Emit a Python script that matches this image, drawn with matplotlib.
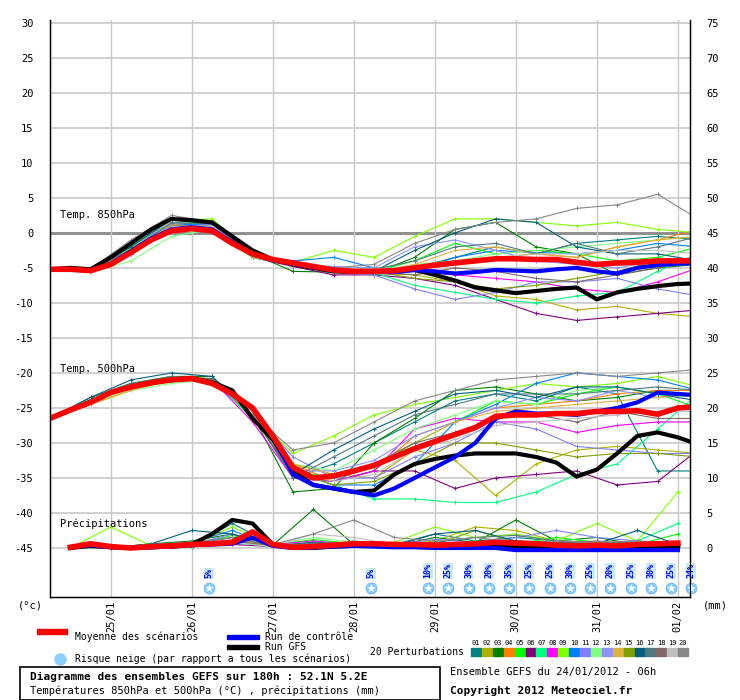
import matplotlib
matplotlib.use('Agg')
import matplotlib.pyplot as plt
from matplotlib.patches import Rectangle
import numpy as np

plt.rcParams['font.family'] = ['DejaVu Sans Mono', 'DejaVu Sans']

# ---- data (hours after 24/01/2012 06h) ----
H6 = list(range(0, 193, 6))          # control / GFS / mean temperatures
H12 = list(range(0, 193, 12))        # perturbation temperatures
P6 = list(range(6, 187, 6))          # mean / control / GFS precipitation
P12 = list(range(6, 187, 12))        # perturbation precipitation

day_labels = ['25/01', '26/01', '27/01', '28/01', '29/01', '30/01', '31/01', '01/02']
day_hours = [18, 42, 66, 90, 114, 138, 162, 186]

member_colors = ['#008080', '#b0b000', '#008000', '#ff8000', '#00ff00', '#800080', '#00ff80',
                 '#ff00ff', '#80ff00', '#0080ff', '#8080ff', '#80ff80', '#9090ff', '#e0b040',
                 '#80a000', '#006080', '#507880', '#806868', '#c0c0c0', '#888888']

t850_mean = [-5.2, -5.2, -5.4, -4.5, -2.8, -1.0, 0.3, 0.6, 0.3, -1.5, -3.0, -3.8, -4.3, -4.8, -5.3, -5.5,
             -5.5, -5.4, -5.0, -4.6, -4.3, -4.0, -3.7, -3.7, -3.8, -3.8, -4.2, -4.5, -4.3, -4.2, -4.0, -4.0, -4.0]
t850_ctrl = [-5.2, -5.2, -5.4, -4.4, -2.6, -0.8, 0.5, 0.8, 0.5, -1.3, -3.0, -3.9, -4.4, -4.9, -5.3, -5.5,
             -5.6, -5.6, -5.3, -5.5, -5.8, -5.6, -5.3, -5.4, -5.5, -5.2, -5.0, -5.5, -5.8, -5.0, -4.6, -4.4, -4.3]
t850_gfs = [-5.2, -5.0, -5.2, -3.5, -1.5, 0.5, 2.0, 1.8, 1.5, -0.5, -2.5, -3.8, -4.5, -5.0, -5.5, -5.6,
            -5.5, -5.4, -5.3, -6.0, -6.8, -7.8, -8.2, -8.6, -8.3, -8.0, -7.8, -9.5, -8.5, -8.0, -7.6, -7.3, -7.2]

t850_members = [
    [-5.2, -5.5, -2.5, 0.8, 1.0, -3.2, -4.5, -5.5, -5.6, -5.0, -3.5, -2.0, -3.0, -1.5, -1.0, -0.5, -1.0],
    [-5.2, -5.4, -3.0, 0.5, 0.8, -3.5, -4.6, -5.5, -5.8, -6.0, -7.0, -9.0, -9.5, -11.0, -10.5, -11.5, -12.0],
    [-5.2, -5.3, -2.0, 1.8, 1.5, -3.0, -5.5, -5.6, -5.8, -3.5, 0.5, 1.5, -2.0, -3.0, -6.0, -5.0, -4.5],
    [-5.2, -5.5, -2.8, 1.0, 1.0, -3.3, -4.5, -5.2, -5.5, -5.0, -4.0, -3.5, -3.0, -3.5, -2.0, -1.0, 0.5],
    [-5.2, -5.4, -2.2, 1.5, 1.5, -3.0, -4.4, -5.0, -5.5, -4.0, -1.5, -3.0, -2.5, -3.0, -4.0, -3.5, -2.0],
    [-5.2, -5.5, -3.0, 0.5, 0.5, -3.5, -4.8, -6.0, -6.0, -6.5, -7.5, -9.5, -11.5, -12.5, -12.0, -11.5, -11.0],
    [-5.2, -5.4, -3.0, 0.8, 1.0, -3.2, -4.5, -5.5, -5.7, -7.5, -8.5, -9.5, -10.0, -9.0, -8.5, -5.5, -3.0],
    [-5.2, -5.5, -2.8, 0.8, 0.8, -3.4, -4.6, -5.5, -5.6, -5.5, -6.0, -6.5, -7.0, -8.0, -8.5, -7.0, -5.0],
    [-5.2, -5.3, -2.0, 1.8, 2.0, -3.0, -4.2, -2.5, -3.5, -0.5, 2.0, 2.0, 1.5, 1.0, 1.5, 0.5, 0.0],
    [-5.2, -5.4, -2.5, 1.2, 1.2, -3.2, -4.0, -3.5, -5.0, -5.5, -3.5, -2.5, -2.8, -3.0, -2.5, -1.5, -2.0],
    [-5.2, -5.5, -2.5, 2.0, 1.5, -3.2, -4.6, -5.5, -6.0, -8.0, -9.5, -8.5, -7.0, -7.0, -6.5, -8.0, -9.0],
    [-5.2, -5.6, -4.0, -0.5, 0.5, -3.5, -4.6, -5.5, -5.8, -4.5, -4.0, -3.0, -2.5, -2.0, -1.5, -1.0, -0.5],
    [-5.2, -5.4, -2.3, 1.5, 1.2, -3.2, -4.4, -4.8, -5.0, -2.0, -1.0, -2.5, -4.0, -4.5, -5.0, -4.0, -3.5],
    [-5.2, -5.4, -2.6, 1.2, 0.8, -3.3, -4.6, -5.4, -5.6, -4.5, -2.5, -2.0, -3.0, -3.5, -2.0, -1.0, -0.5],
    [-5.2, -5.5, -3.0, 0.6, 0.6, -3.4, -4.6, -5.5, -5.5, -6.5, -7.0, -8.0, -7.5, -6.5, -5.5, -4.0, -4.5],
    [-5.2, -5.3, -2.0, 2.0, 1.5, -3.0, -4.3, -5.0, -5.5, -2.5, 0.0, 2.0, 1.5, -2.0, -3.0, -3.0, -4.0],
    [-5.2, -5.4, -2.4, 1.4, 1.3, -3.1, -4.4, -5.0, -5.2, -4.0, -2.0, -1.5, -3.0, -1.5, -3.0, -2.0, -0.5],
    [-5.2, -5.5, -2.8, 1.0, 1.0, -3.3, -4.5, -5.3, -5.5, -6.0, -5.0, -5.5, -6.5, -7.0, -6.0, -5.0, -4.0],
    [-5.2, -5.4, -2.7, 0.9, 1.0, -3.3, -4.5, -5.0, -5.2, -4.8, -4.0, -3.5, -3.0, -3.0, -2.5, -2.5, -3.0],
    [-5.2, -5.2, -1.0, 2.5, 1.5, -3.0, -4.3, -5.0, -4.5, -1.5, 0.5, 1.5, 2.0, 3.5, 4.0, 5.5, 2.0],
]

t500_mean = [-26.5, -25.3, -24.2, -22.8, -22.0, -21.4, -21.0, -20.8, -21.5, -23.0, -25.0, -29.0, -33.5, -35.0,
             -34.7, -34.0, -33.2, -32.0, -30.8, -29.8, -28.8, -27.8, -26.2, -26.0, -26.0, -25.8, -25.8, -25.5,
             -25.5, -25.4, -25.9, -25.0, -24.8]
t500_ctrl = [-26.5, -25.3, -24.2, -22.8, -22.0, -21.4, -21.0, -20.8, -21.5, -23.0, -25.0, -29.0, -34.5, -36.0,
             -36.5, -37.0, -37.5, -36.5, -35.0, -33.5, -32.0, -30.0, -26.5, -25.5, -25.8, -25.8, -26.0, -25.5,
             -25.0, -24.2, -22.8, -23.0, -23.2]
t500_gfs = [-26.5, -25.3, -24.2, -22.8, -22.0, -21.4, -21.0, -20.8, -21.3, -22.5, -26.5, -29.5, -34.0, -36.0,
            -36.5, -37.0, -36.8, -34.5, -33.0, -32.3, -31.8, -31.5, -31.5, -31.5, -32.0, -32.8, -34.8, -33.8,
            -31.5, -29.0, -28.5, -29.2, -30.2]

t500_members = [
    [-26.5, -23.8, -21.5, -20.8, -21.0, -26.0, -35.0, -33.0, -30.0, -27.0, -24.0, -23.0, -24.0, -22.0, -23.0, -34.0, -34.0],
    [-26.5, -24.5, -22.5, -21.0, -20.8, -26.5, -33.0, -34.5, -35.0, -31.0, -32.5, -37.5, -33.0, -31.0, -30.5, -31.0, -31.5],
    [-26.5, -23.5, -21.5, -20.5, -20.5, -26.0, -37.0, -36.5, -30.0, -26.5, -22.5, -22.0, -23.0, -24.0, -23.5, -22.5, -22.5],
    [-26.5, -24.0, -22.0, -21.0, -20.8, -25.5, -33.0, -35.5, -34.0, -29.0, -27.0, -25.0, -24.5, -24.0, -23.0, -22.5, -22.5],
    [-26.5, -24.0, -21.8, -20.8, -21.0, -26.0, -34.0, -35.0, -33.5, -30.0, -27.0, -24.0, -24.5, -23.0, -22.0, -23.0, -25.0],
    [-26.5, -24.0, -22.0, -21.0, -21.0, -26.0, -34.5, -35.5, -34.0, -34.0, -36.5, -35.0, -34.5, -34.0, -36.0, -35.5, -31.0],
    [-26.5, -24.0, -22.0, -21.0, -21.0, -26.5, -34.0, -36.0, -38.0, -38.0, -38.5, -38.5, -37.0, -34.5, -33.0, -28.0, -23.0],
    [-26.5, -24.0, -22.0, -21.0, -21.0, -27.0, -35.0, -35.5, -34.0, -28.0, -26.5, -27.0, -27.0, -28.5, -27.5, -27.0, -27.0],
    [-26.5, -24.0, -22.0, -21.0, -21.0, -26.0, -31.5, -29.0, -26.0, -24.5, -23.5, -22.5, -21.5, -22.0, -21.5, -20.5, -22.0],
    [-26.5, -24.0, -22.0, -21.0, -21.0, -26.0, -34.0, -36.0, -36.0, -33.0, -27.0, -24.5, -21.5, -20.0, -20.5, -21.0, -22.5],
    [-26.5, -24.0, -22.0, -21.0, -21.0, -25.5, -32.0, -35.0, -35.0, -32.0, -30.0, -27.0, -28.0, -30.5, -31.0, -31.5, -31.5],
    [-26.5, -24.0, -22.5, -21.5, -21.0, -25.5, -33.0, -34.0, -31.0, -28.0, -26.0, -24.0, -24.5, -22.5, -22.0, -23.0, -23.5],
    [-26.5, -24.0, -22.0, -21.0, -21.0, -26.0, -34.0, -34.0, -32.5, -29.0, -27.0, -25.0, -23.5, -24.0, -22.5, -23.5, -23.0],
    [-26.5, -24.5, -22.5, -21.0, -21.0, -26.0, -33.0, -34.5, -33.0, -30.0, -27.0, -25.5, -25.0, -24.5, -24.0, -23.5, -23.0],
    [-26.5, -24.0, -22.0, -21.0, -21.0, -26.0, -34.0, -36.0, -35.5, -33.0, -30.0, -30.0, -31.0, -32.0, -31.5, -31.5, -32.0],
    [-26.5, -23.5, -21.0, -20.0, -20.5, -26.0, -34.5, -31.0, -28.0, -25.5, -23.0, -22.5, -23.5, -22.0, -22.0, -23.0, -24.0],
    [-26.5, -24.0, -21.5, -20.5, -20.8, -26.0, -35.0, -32.0, -29.0, -26.0, -24.5, -23.0, -23.0, -23.0, -22.5, -22.0, -22.5],
    [-26.5, -24.0, -22.0, -21.0, -21.0, -26.0, -34.5, -35.5, -33.0, -30.0, -28.5, -26.5, -26.0, -27.0, -25.5, -26.5, -26.5],
    [-26.5, -24.0, -22.0, -21.0, -21.0, -26.0, -34.0, -35.5, -34.5, -31.0, -29.5, -27.5, -27.0, -26.5, -26.0, -25.5, -25.5],
    [-26.5, -24.0, -22.0, -21.0, -21.0, -26.0, -31.0, -30.0, -27.0, -24.0, -22.5, -21.0, -20.5, -20.0, -20.5, -20.0, -19.5],
]

# precipitation (mm)
pr_mean = [0.1, 0.6, 0.2, 0.0, 0.2, 0.3, 0.5, 0.6, 0.8, 2.3, 0.5, 0.1, 0.2, 0.4, 0.6, 0.6,
           0.5, 0.5, 0.4, 0.5, 0.6, 0.8, 0.7, 0.6, 0.4, 0.3, 0.4, 0.3, 0.5, 0.6, 0.7]
pr_ctrl = [0.1, 0.4, 0.1, 0.0, 0.1, 0.2, 0.4, 0.5, 0.6, 1.5, 0.3, 0.0, 0.1, 0.2, 0.3, 0.2,
           0.1, 0.1, 0.0, 0.0, 0.0, 0.0, -0.3, -0.3, -0.3, -0.3, -0.3, -0.3, -0.3, -0.3, -0.3]
pr_gfs = [0.0, 0.3, 0.1, 0.0, 0.1, 0.2, 0.5, 2.0, 4.0, 3.5, 0.5, 0.0, 0.0, 0.2, 0.3, 0.3,
          0.2, 0.2, 0.2, 0.2, 0.3, 0.3, 0.2, 0.2, 0.2, 0.2, 0.2, 0.2, 0.2, 0.2, 0.2]

pr_members = [
    [0.2, 0.0, 0.5, 0.3, 3.5, 0.5, 0.3, 1.0, 0.5, 2.0, 1.0, 1.5, 1.0, 0.5, 1.0, 0.5],
    [0.1, 0.0, 0.2, 0.5, 1.0, 0.3, 0.5, 0.8, 0.4, 1.0, 3.0, 2.5, 1.0, 0.5, 0.8, 0.7],
    [0.3, 0.0, 0.6, 1.0, 2.0, 0.4, 5.5, 0.5, 0.3, 1.5, 0.8, 4.0, 1.0, 1.5, 0.5, 0.3],
    [0.2, 0.0, 0.3, 0.5, 1.5, 0.2, 0.8, 0.5, 0.5, 0.8, 0.4, 0.5, 0.3, 0.6, 0.4, 0.5],
    [0.0, 0.0, 0.3, 0.4, 1.8, 0.4, 1.2, 0.6, 0.8, 0.5, 1.0, 0.6, 1.5, 0.8, 0.5, 2.0],
    [0.1, 0.0, 0.2, 0.2, 0.5, 0.2, 0.3, 0.4, 0.3, 0.2, 0.3, 0.5, 0.2, 0.3, 0.2, 0.1],
    [0.0, 0.0, 0.1, 0.3, 0.8, 0.2, 0.5, 0.4, 0.3, 0.3, 0.5, 0.4, 0.8, 0.5, 1.0, 3.5],
    [0.1, 0.0, 0.3, 0.4, 1.0, 0.5, 1.0, 0.5, 0.4, 0.6, 0.8, 0.5, 0.6, 0.4, 0.3, 0.4],
    [0.0, 3.0, 0.3, 0.5, 3.0, 0.3, 0.8, 0.5, 0.8, 3.0, 1.5, 2.0, 1.0, 3.5, 1.0, 8.0],
    [0.2, 0.0, 0.5, 0.8, 2.5, 0.3, 0.5, 0.5, 0.3, 0.5, 0.8, 1.0, 0.5, 0.6, 0.5, 0.4],
    [0.3, 0.0, 0.2, 0.5, 2.0, 0.3, 0.8, 0.5, 0.5, 1.2, 0.8, 1.5, 2.5, 1.5, 1.0, 0.8],
    [0.0, 0.0, 0.2, 0.3, 1.0, 0.5, 1.5, 0.8, 0.6, 0.5, 0.8, 0.6, 0.5, 0.8, 0.6, 0.5],
    [0.2, 0.0, 0.4, 0.6, 1.5, 0.3, 0.6, 0.4, 0.3, 0.5, 0.4, 0.6, 0.5, 0.4, 0.5, 0.6],
    [0.1, 0.0, 0.3, 0.4, 1.2, 0.3, 0.6, 0.5, 0.4, 0.6, 0.5, 0.8, 0.5, 0.6, 0.4, 0.3],
    [0.1, 0.0, 0.2, 0.3, 1.0, 0.2, 0.5, 0.4, 0.3, 0.5, 2.5, 0.8, 0.6, 0.5, 0.4, 0.3],
    [0.2, 0.0, 0.6, 2.5, 2.0, 0.3, 0.8, 0.5, 0.3, 2.0, 2.5, 1.0, 0.8, 0.6, 2.5, 0.5],
    [0.2, 0.0, 0.5, 0.6, 1.5, 0.3, 0.7, 0.6, 0.4, 0.8, 1.5, 1.8, 1.0, 0.8, 0.6, 0.5],
    [0.1, 0.0, 0.3, 0.4, 1.0, 0.3, 0.5, 0.6, 0.4, 0.5, 0.6, 0.5, 0.8, 1.0, 0.6, 0.5],
    [0.1, 0.0, 0.2, 0.3, 0.8, 0.2, 2.0, 1.5, 0.5, 0.4, 0.5, 0.4, 0.3, 0.5, 0.4, 0.6],
    [0.2, 0.0, 0.5, 0.8, 1.5, 0.5, 2.0, 4.0, 1.5, 1.0, 1.5, 0.8, 1.0, 0.8, 1.0, 0.5],
]

snow_hours = [47, 95, 112, 118, 124, 130, 136, 142, 148, 154, 160, 166, 172, 178, 184, 190]
snow_pct = ['5%', '5%', '10%', '25%', '30%', '20%', '35%', '25%', '25%', '30%', '25%', '20%', '25%', '30%', '25%', '24%']

PR0 = -45  # precipitation zero on the temperature axis

W, HH = 740, 700
fig = plt.figure(figsize=(W / 100, HH / 100), dpi=100)
ax = fig.add_axes([50 / W, 1 - 597 / HH, 640 / W, 577 / HH])
ax.set_xlim(0, 189.6)
ax.set_ylim(-52, 30.4)

# grid
for v in range(-45, 31, 5):
    if v == 0:
        ax.axhline(v, color='#909090', lw=2.2, zorder=0)
    else:
        ax.axhline(v, color='#c8c8c8', lw=1.2, zorder=0)
for h in day_hours:
    ax.axvline(h, color='#c8c8c8', lw=1.0, zorder=0)

mk = dict(marker='+', markersize=3, markeredgewidth=0.7)
for i, c in enumerate(member_colors):
    ax.plot(H12, t850_members[i], color=c, lw=0.8, zorder=2, **mk)
    ax.plot(H12, t500_members[i], color=c, lw=0.8, zorder=2, **mk)
    ax.plot(P12, np.array(pr_members[i]) + PR0, color=c, lw=0.8, zorder=2, **mk)

for series, hh in [((t850_gfs, t850_ctrl, t850_mean), H6), ((t500_gfs, t500_ctrl, t500_mean), H6),
                   ((np.array(pr_gfs) + PR0, np.array(pr_ctrl) + PR0, np.array(pr_mean) + PR0), P6)]:
    g, ct, m = series
    ax.plot(hh, g, color='black', lw=3, zorder=3)
    ax.plot(hh, ct, color='#0000ff', lw=3, zorder=4)
    ax.plot(hh, m, color='#ff0000', lw=4, zorder=5)

# labels in plot
ax.text(3, 1.8, 'Temp. 850hPa', fontsize=7.5, va='bottom', zorder=6)
ax.text(3, -20.1, 'Temp. 500hPa', fontsize=7.5, va='bottom', zorder=6)
ax.text(3, -42.3, 'Précipitations', fontsize=7.5, va='bottom', zorder=6)

# snow risk
for h, p in zip(snow_hours, snow_pct):
    ax.scatter([h], [-50.7], s=60, color='#8ccfff', edgecolors='#60b0f0', lw=0.6,
               marker='o', zorder=6, clip_on=False)
    ax.scatter([h], [-50.7], s=40, color='white', marker='*', lw=0, zorder=7, clip_on=False)
    ax.text(h, -49.3, p, rotation=90, ha='center', va='bottom', fontsize=6, color='#0000ff',
            fontweight='bold', zorder=7, clip_on=False,
            bbox=dict(boxstyle='square,pad=0.05', fc='#c8ecff', ec='none'))

# axes / ticks
ax.spines['top'].set_visible(False)
for s in ['left', 'right', 'bottom']:
    ax.spines[s].set_color('black')
    ax.spines[s].set_linewidth(1)
ax.set_yticks(range(-45, 31, 5))
ax.set_yticklabels([str(v) for v in range(-45, 31, 5)], fontsize=7.5)
ax.tick_params(axis='y', length=0, pad=12)
ax2 = ax.twinx()
ax2.set_ylim(ax.get_ylim())
ax2.set_yticks(range(-45, 31, 5))
ax2.set_yticklabels([str(v + 45) for v in range(-45, 31, 5)], fontsize=7.5)
ax2.tick_params(axis='y', length=0, pad=12)
ax2.spines['top'].set_visible(False)
ax.set_xticks([])
for h, lab in zip(day_hours, day_labels):
    ax.text(h, -52.6, lab, rotation=90, ha='center', va='top', fontsize=7.5, clip_on=False)


def ftext(x, y, s, **kw):
    fig.text(x / W, 1 - y / HH, s, **kw)


ftext(30, 606, '(°c)', fontsize=7.5, ha='center', va='center')
ftext(715, 606, '(mm)', fontsize=7.5, ha='center', va='center')

# legend
fig.add_artist(Rectangle((37 / W, 1 - 634 / HH), 30 / W, 5 / HH, color='#ff0000', transform=fig.transFigure))
ftext(75, 637, 'Moyenne des scénarios', fontsize=7, va='center')
fig.add_artist(Rectangle((227 / W, 1 - 639 / HH), 32 / W, 4 / HH, color='#0000ff', transform=fig.transFigure))
ftext(265, 637, 'Run de contrôle', fontsize=7, va='center')
fig.add_artist(Rectangle((227 / W, 1 - 649 / HH), 32 / W, 4 / HH, color='black', transform=fig.transFigure))
ftext(265, 647, 'Run GFS', fontsize=7, va='center')
fig.lines.append(plt.Line2D([60 / W], [1 - 659 / HH], marker='o', markersize=8, color='#8ccfff',
                            transform=fig.transFigure))
ftext(75, 659, 'Risque neige (par rapport a tous les scénarios)', fontsize=7, va='center')
ftext(370, 652, '20 Perturbations', fontsize=7, va='center')
for i, c in enumerate(member_colors):
    x0 = 471 + i * 10.9
    fig.add_artist(Rectangle((x0 / W, 1 - 656 / HH), 10 / W, 8 / HH, color=c, transform=fig.transFigure))
    ftext(x0 + 5, 643, '%02d' % (i + 1), fontsize=5, ha='center', va='center')

fig.add_artist(Rectangle((20 / W, 1 - 700 / HH), 420 / W, 33 / HH, fill=False, ec='black', lw=1.2,
                         transform=fig.transFigure))
ftext(30, 677, 'Diagramme des ensembles GEFS sur 180h : 52.1N 5.2E', fontsize=8, fontweight='bold', va='center')
ftext(30, 691, 'Températures 850hPa et 500hPa (°C) , précipitations (mm)', fontsize=7.5, va='center')
ftext(450, 672, 'Ensemble GEFS du 24/01/2012 - 06h', fontsize=7.5, va='center')
ftext(450, 691, 'Copyright 2012 Meteociel.fr', fontsize=8, fontweight='bold', va='center')

fig.savefig('out.png', dpi=100)
